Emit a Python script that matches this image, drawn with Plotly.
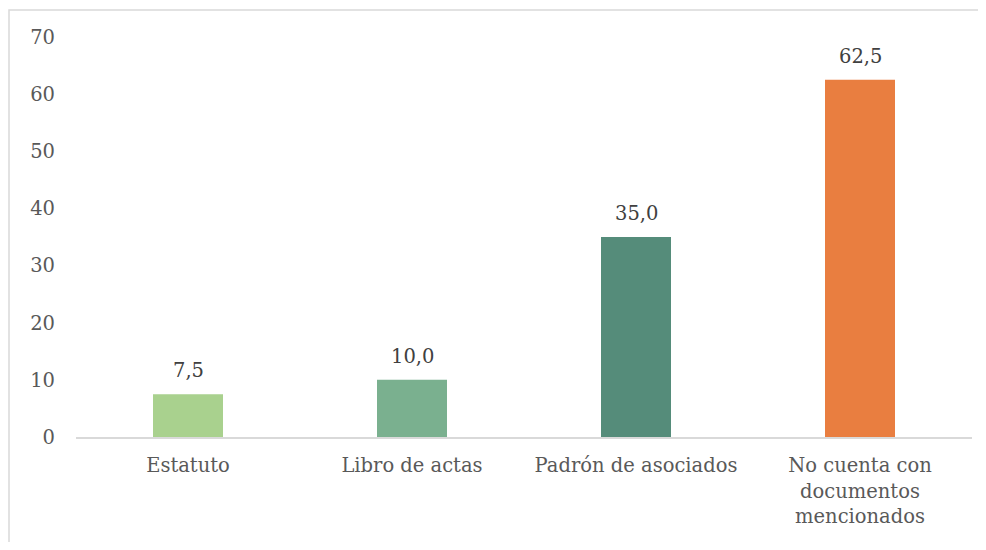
import plotly.graph_objects as go

categories = ["Estatuto", "Libro de actas", "Padrón de asociados", "No cuenta con<br>documentos<br>mencionados"]
values = [7.5, 10.0, 35.0, 62.5]
labels = ["7,5", "10,0", "35,0", "62,5"]
colors = ["#A9D18E", "#7AB08F", "#558C7A", "#E97E40"]
y_ticks = [0, 10, 20, 30, 40, 50, 60, 70]

FONT = "DejaVu Serif"
FS = 19.5

fig = go.Figure(go.Bar(
    x=categories, y=values,
    marker=dict(color=colors, line=dict(width=0)),
    hoverinfo="skip",
))

for c, v, t in zip(categories, values, labels):
    fig.add_annotation(x=c, y=v, text=t, showarrow=False, yanchor="bottom",
                       yshift=10, font=dict(family=FONT, size=FS, color="#404040"))

# page body has an 8px margin; figure placed at (8, 8)
OFF = 8
W, H = 970, 534
L, R, T, B = 76 - OFF, 6, 37 - OFF, 105
pw, ph = W - L - R, H - T - B

fig.update_layout(
    width=W, height=H,
    margin=dict(l=L, r=R, t=T, b=B, pad=0),
    paper_bgcolor="white", plot_bgcolor="white",
    bargap=0.6875, showlegend=False,
    font=dict(family=FONT, size=FS, color="#595959"),
    xaxis=dict(showline=True, linecolor="#D9D9D9", linewidth=1.5, ticks="",
               showgrid=False, ticklabelstandoff=10,
               tickfont=dict(size=FS, color="#595959")),
    yaxis=dict(range=[0, 70], tickvals=y_ticks, showgrid=False, zeroline=False,
               showline=False, ticks="", ticklabelstandoff=20,
               tickfont=dict(size=FS, color="#595959")),
    shapes=[dict(type="rect", xref="paper", yref="paper",
                 x0=(1 - L) / pw, x1=(W + 20 - L) / pw,
                 y0=(T + ph - (H + 20)) / ph, y1=(T + ph - 2) / ph,
                 line=dict(color="#D9D9D9", width=1.5), layer="below")],
)

fig.write_html("out.html")
